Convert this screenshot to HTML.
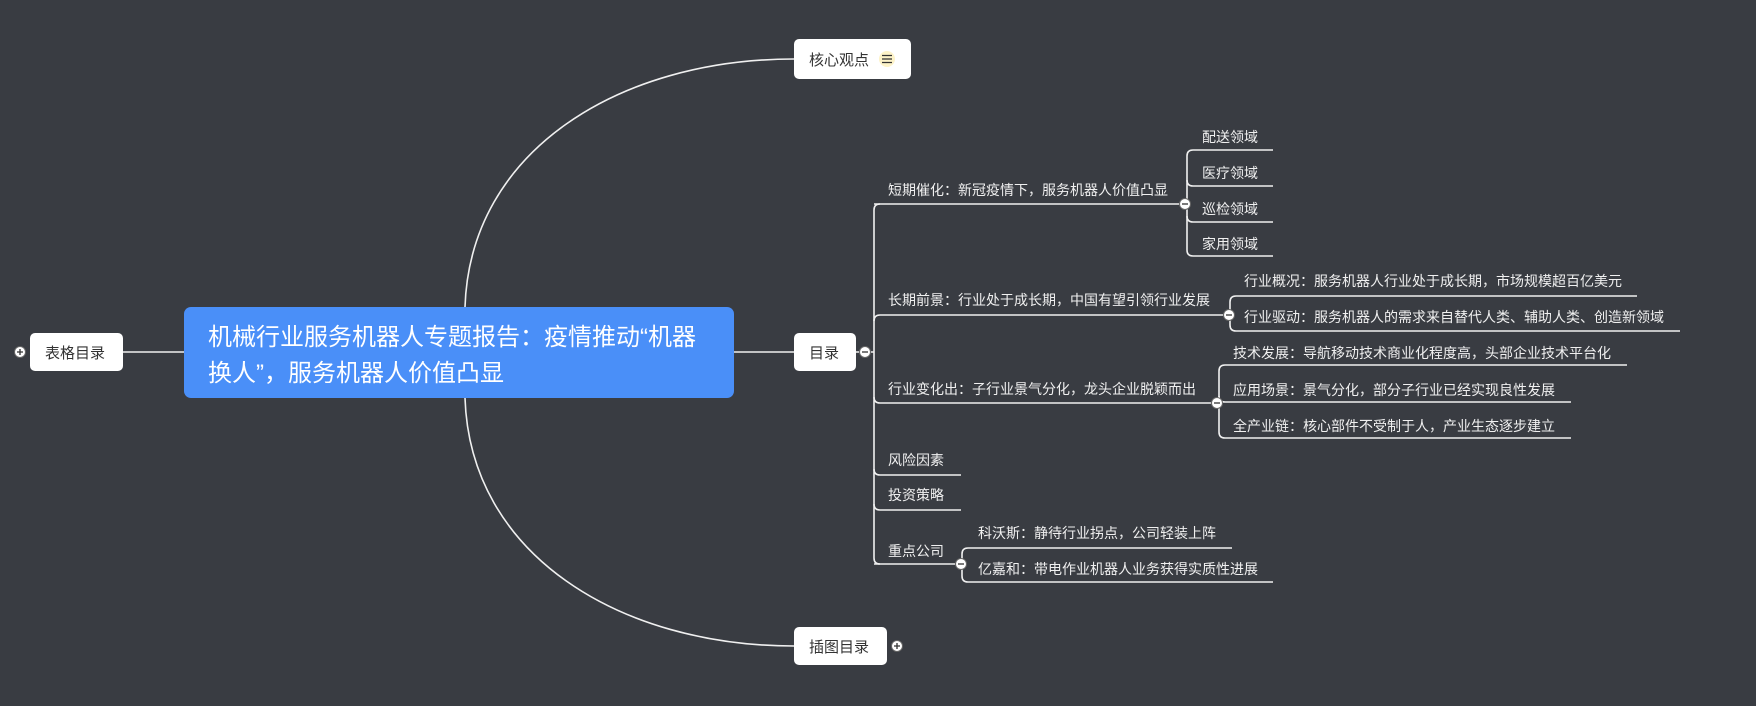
<!DOCTYPE html>
<html><head><meta charset="utf-8"><style>
html,body{margin:0;padding:0;background:#393c42;}
svg{display:block}
text{font-family:"Liberation Sans","Noto Sans CJK SC",sans-serif;}
</style></head><body>
<svg width="1756" height="706" viewBox="0 0 1756 706" xmlns="http://www.w3.org/2000/svg">
<rect width="1756" height="706" fill="#393c42"/>
<g fill="none" stroke="#f0f0f0" stroke-width="1.6">
<path d="M465,307 C470,150 620,59 794,59"/>
<path d="M465,398 C470,555 620,646 794,646"/>
<path d="M734,352 H794"/>
<path d="M123,352 H184"/>
<path d="M856,352 H874"/>
<path d="M880,204 Q874,204 874,210 V558 Q874,564 880,564"/>
<path d="M874,204 H1185"/>
<path d="M874,321 Q874,315 880,315 H1229"/>
<path d="M874,397 Q874,403 880,403 H1217"/>
<path d="M874,469 Q874,475 880,475 H961"/>
<path d="M874,504 Q874,510 880,510 H961"/>
<path d="M874,564 H962"/>
<path d="M1187,250 V156 Q1187,150 1193,150 H1273"/>
<path d="M1187,180 Q1187,186 1193,186 H1273"/>
<path d="M1187,216 Q1187,222 1193,222 H1273"/>
<path d="M1187,250 Q1187,256 1193,256 H1273"/>
<path d="M1230,325 V302 Q1230,296 1236,296 H1637"/>
<path d="M1230,325 Q1230,331 1236,331 H1680"/>
<path d="M1219,432 V371 Q1219,365 1225,365 H1627"/>
<path d="M1219,396 Q1219,402 1225,402 H1571"/>
<path d="M1219,432 Q1219,438 1225,438 H1571"/>
<path d="M962,576 V554 Q962,548 968,548 H1232"/>
<path d="M962,576 Q962,582 968,582 H1273"/>
</g>
<rect x="184" y="307" width="550" height="91" rx="7" fill="#4a8ff8"/>
<text x="208" y="345" font-size="24" fill="#fff">机械行业服务机器人专题报告：疫情推动“机器</text>
<text x="208" y="381" font-size="24" fill="#fff">换人”，服务机器人价值凸显</text>
<rect x="794" y="39" width="117" height="40" rx="5" fill="#fff"/>
<text x="809" y="65" font-size="15" fill="#333">核心观点</text>
<circle cx="887" cy="59" r="8" fill="#fdf3c8"/>
<path d="M882,55.5 H892 M882,59 H892 M882,62.5 H892" stroke="#333" stroke-width="1.3"/>
<rect x="794" y="333" width="62" height="38" rx="5" fill="#fff"/>
<text x="809" y="358" font-size="15" fill="#333">目录</text>
<rect x="794" y="627" width="93" height="38" rx="5" fill="#fff"/>
<text x="809" y="652" font-size="15" fill="#333">插图目录</text>
<rect x="30" y="333" width="93" height="38" rx="5" fill="#fff"/>
<text x="45" y="358" font-size="15" fill="#333">表格目录</text>
<g stroke="#666" stroke-width="1" fill="#fff">
<circle cx="20" cy="352" r="5.5"/><circle cx="897" cy="646" r="5.5"/>
<circle cx="865" cy="352" r="5.5"/><circle cx="1185" cy="204" r="5.5"/>
<circle cx="1229" cy="315" r="5.5"/><circle cx="1217" cy="403" r="5.5"/>
<circle cx="961" cy="564" r="5.5"/>
</g>
<g stroke="#333" stroke-width="1.3">
<path d="M17,352 H23 M20,349 V355"/><path d="M894,646 H900 M897,643 V649"/>
<path d="M862,352 H868"/><path d="M1182,204 H1188"/><path d="M1226,315 H1232"/>
<path d="M1214,403 H1220"/><path d="M958,564 H964"/>
</g>
<g font-size="14" fill="#f0f0f0">
<text x="888" y="195">短期催化：新冠疫情下，服务机器人价值凸显</text>
<text x="888" y="305">长期前景：行业处于成长期，中国有望引领行业发展</text>
<text x="888" y="394">行业变化出：子行业景气分化，龙头企业脱颖而出</text>
<text x="888" y="465">风险因素</text>
<text x="888" y="500">投资策略</text>
<text x="888" y="556">重点公司</text>
<text x="1202" y="142">配送领域</text>
<text x="1202" y="178">医疗领域</text>
<text x="1202" y="214">巡检领域</text>
<text x="1202" y="249">家用领域</text>
<text x="1244" y="286">行业概况：服务机器人行业处于成长期，市场规模超百亿美元</text>
<text x="1244" y="322">行业驱动：服务机器人的需求来自替代人类、辅助人类、创造新领域</text>
<text x="1233" y="358">技术发展：导航移动技术商业化程度高，头部企业技术平台化</text>
<text x="1233" y="395">应用场景：景气分化，部分子行业已经实现良性发展</text>
<text x="1233" y="431">全产业链：核心部件不受制于人，产业生态逐步建立</text>
<text x="978" y="538">科沃斯：静待行业拐点，公司轻装上阵</text>
<text x="978" y="574">亿嘉和：带电作业机器人业务获得实质性进展</text>
</g>
</svg>
</body></html>
